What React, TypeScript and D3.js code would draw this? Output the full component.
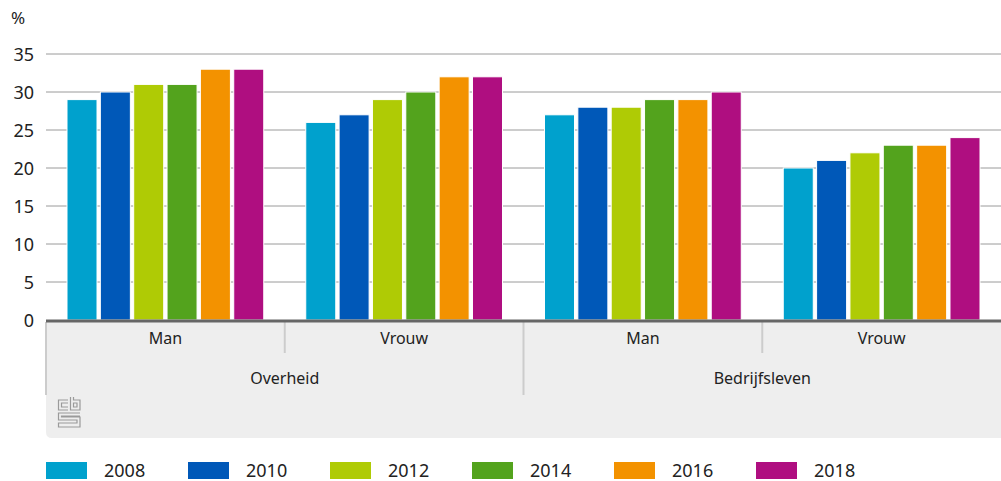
import React from 'react';
import * as d3 from 'd3';

const sectors = ['Overheid', 'Bedrijfsleven'];
const years = ['2008', '2010', '2012', '2014', '2016', '2018'];
const colors = ['#00a1cd', '#0058b8', '#afcb05', '#53a31d', '#f39200', '#af0e80'];
// values per group (sector x gender), one per year
const overheidMan = [29, 30, 31, 31, 33, 33];
const overheidVrouw = [26, 27, 29, 30, 32, 32];
const bedrijfMan = [27, 28, 28, 29, 29, 30];
const bedrijfVrouw = [20, 21, 22, 23, 23, 24];
const yTicks = [0, 5, 10, 15, 20, 25, 30, 35];

const groups = [
  { sector: 'Overheid', gender: 'Man', values: overheidMan },
  { sector: 'Overheid', gender: 'Vrouw', values: overheidVrouw },
  { sector: 'Bedrijfsleven', gender: 'Man', values: bedrijfMan },
  { sector: 'Bedrijfsleven', gender: 'Vrouw', values: bedrijfVrouw },
];

const font = "'Noto Sans', sans-serif";

const App = () => {
  const width = 1001;
  const height = 481;
  const left = 46;
  const right = 1001;
  const base = 320;

  const y = d3.scaleLinear().domain([0, 35]).range([base, 54]);
  const x0 = d3.scaleBand().domain(groups.map((_, i) => String(i))).range([left, right]);
  const x1 = d3.scaleBand().domain(years).range([21, x0.bandwidth() - 21]).paddingInner(0.1);
  const xs = d3.scaleBand().domain(sectors).range([left, right]);

  const legendX = d3.scaleBand().domain(years).range([46, 46 + 142 * 6]);

  return (
    <svg width={width} height={height} style={{ position: 'absolute', left: 0, top: 0 }}>
      <text x={11} y={24} fontFamily={font} fontSize={17} fill="#222">%</text>
      {yTicks.map(t => (
        <g key={t}>
          {t > 0 && <line x1={left} x2={right} y1={y(t)} y2={y(t)} stroke="#9a9a9a" strokeWidth={1} />}
          <text x={34} y={y(t) + 6.5} textAnchor="end" fontFamily={font} fontSize={18} fill="#222">{t}</text>
        </g>
      ))}
      {/* category panel */}
      <path d={`M${left},321 H${right} V438 H${left + 6} Q${left},438 ${left},432 Z`} fill="#eeeeee" />
      {groups.map((g, gi) => (
        <g key={gi} transform={`translate(${x0(String(gi))},0)`}>
          {g.values.map((v, i) => (
            <rect key={i} x={x1(years[i])} y={y(v)} width={x1.bandwidth()} height={base - y(v)}
              fill={colors[i]} stroke="#fff" strokeWidth={1} />
          ))}
          <text x={x0.bandwidth() / 2} y={344} textAnchor="middle" fontFamily={font} fontSize={16} fill="#222">{g.gender}</text>
          {gi % 2 === 1 && <line x1={0} x2={0} y1={322} y2={353} stroke="#cccccc" strokeWidth={2} />}
        </g>
      ))}
      {sectors.map(s => (
        <g key={s}>
          <line x1={xs(s)} x2={xs(s)} y1={322} y2={395} stroke="#cccccc" strokeWidth={2} />
          <text x={xs(s) + xs.bandwidth() / 2} y={384} textAnchor="middle" fontFamily={font} fontSize={16} fill="#222">{s}</text>
        </g>
      ))}
      <line x1={left} x2={right} y1={base + 1} y2={base + 1} stroke="#666" strokeWidth={3} />
      {/* cbs logo */}
      <g fill="none" stroke="#9a9a9a" strokeWidth={1.2} transform="translate(58,397)">
        <path d="M10,3 H0.5 V13 H10 M10,6 H3.5 V10 H10" />
        <path d="M12.5,0 V13 H22 V3 H15.5 V0 M15.5,6 H19 V10 H15.5 Z" />
        <path d="M22,16 H0.5 V23 H19 V26 H0.5 V30 H22 V20 H3.5 V19 H22" />
      </g>
      {years.map((yr, i) => (
        <g key={yr} transform={`translate(${legendX(yr)},0)`}>
          <rect x={0} y={462} width={41} height={17} fill={colors[i]} />
          <text x={58} y={477} fontFamily={font} fontSize={18} fill="#222">{yr}</text>
        </g>
      ))}
    </svg>
  );
};

export default App;
